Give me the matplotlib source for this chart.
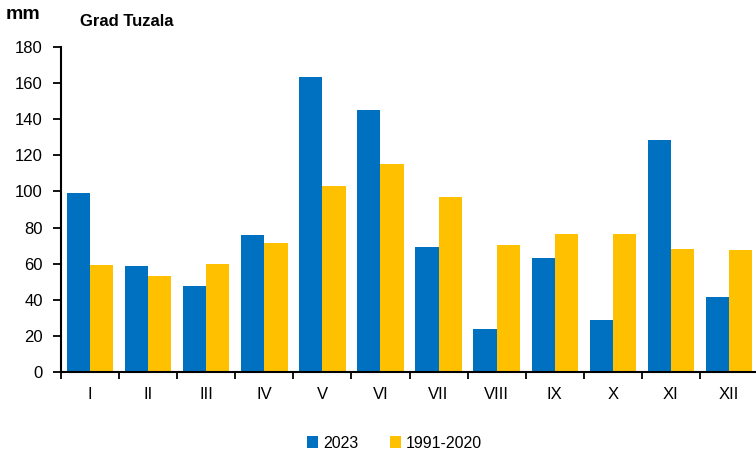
import numpy as np
import matplotlib.pyplot as plt

plt.rcParams['font.family'] = ['Liberation Sans', 'DejaVu Sans']

# podaci (mm)
months = ['I', 'II', 'III', 'IV', 'V', 'VI', 'VII', 'VIII', 'IX', 'X', 'XI', 'XII']
rain_2023 = [99.1, 58.6, 47.5, 75.8, 163.4, 144.9, 69.4, 23.7, 63.4, 29.0, 128.3, 41.8]
rain_norm = [59.0, 53.0, 59.7, 71.3, 102.8, 115.3, 97.2, 70.2, 76.2, 76.3, 68.4, 67.5]


def crtaj():
    fig = plt.figure(figsize=(7.56, 4.55), dpi=100)
    ax = fig.add_axes([0.0807, 0.1824, 0.922, 0.7143])

    x = np.arange(len(months)) + 0.5
    w = 0.4
    ax.bar(x - w / 2, rain_2023, w, color='#0070C0', label='2023')
    ax.bar(x + w / 2, rain_norm, w, color='#FFC000', label='1991-2020')

    ax.set_xlim(0, 12)
    ax.set_ylim(0, 180)
    ax.set_yticks(range(0, 181, 20))
    ax.set_xticks(x)
    ax.set_xticklabels(months)
    ax.set_xticks(np.arange(0, 13), minor=True)
    ax.tick_params(axis='x', which='major', length=0, pad=11, labelsize=12)
    ax.tick_params(axis='x', which='minor', length=5, width=1.3, direction='out')
    ax.tick_params(axis='y', length=6, width=1.3, labelsize=12, pad=7)

    for s in ['top', 'right']:
        ax.spines[s].set_visible(False)
    for s in ['left', 'bottom']:
        ax.spines[s].set_linewidth(1.5)

    fig.text(0.008, 0.958, 'mm', fontsize=14, fontweight='bold', va='baseline')
    fig.text(0.106, 0.943, 'Grad Tuzala', fontsize=12, fontweight='bold', va='baseline')

    fig.legend(loc='center', bbox_to_anchor=(0.522, 0.026), ncol=2, frameon=False,
               fontsize=11.5, handlelength=0.7, handleheight=0.7, handletextpad=0.3,
               columnspacing=2.0)

    plt.savefig('out.png', dpi=100)


if __name__ == '__main__':
    crtaj()
